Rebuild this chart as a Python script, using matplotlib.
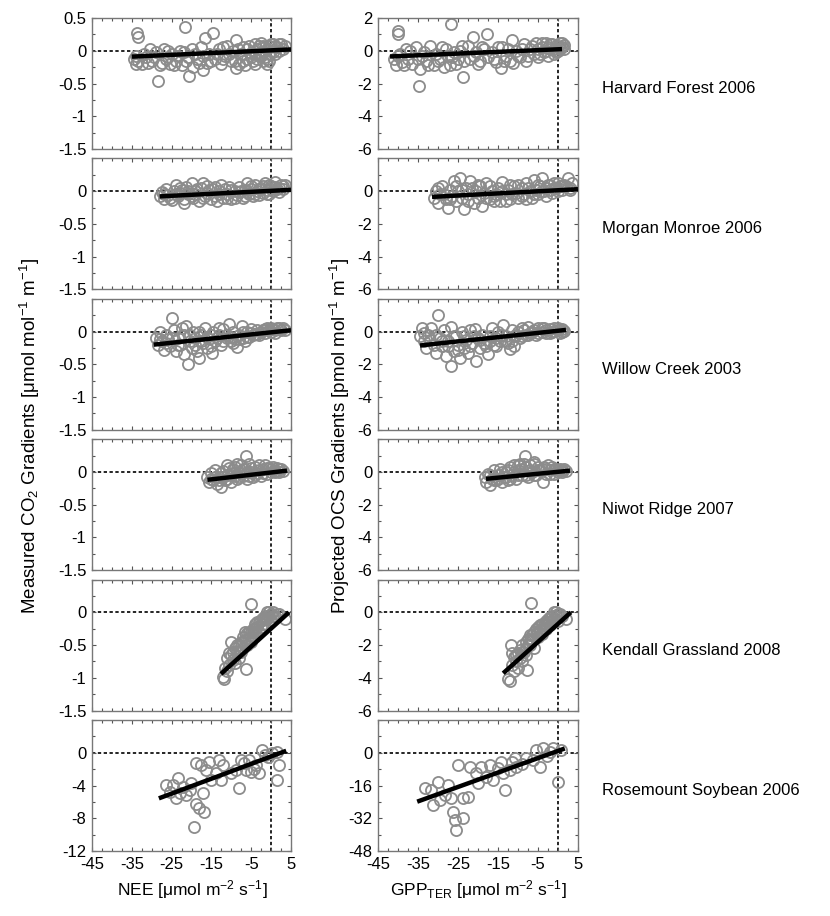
import matplotlib
matplotlib.use("Agg")
import matplotlib.pyplot as plt
from matplotlib.ticker import MultipleLocator

plt.rcParams['font.family'] = ['Liberation Sans', 'DejaVu Sans']
plt.rcParams['mathtext.fontset'] = 'custom'
plt.rcParams['mathtext.rm'] = 'Liberation Sans'
plt.rcParams['mathtext.it'] = 'Liberation Sans:italic'

sites = ["Harvard Forest 2006", "Morgan Monroe 2006", "Willow Creek 2003",
         "Niwot Ridge 2007", "Kendall Grassland 2008", "Rosemount Soybean 2006"]

# ---------------- left column: NEE vs measured CO2 gradient ----------------
hf_nee_x = [-34.5,-34,-33.5,-33.8,-33.5,-32,-31,-30.5,-29.5,-28.5,-28,-27,-26.5,-25.5,-25,-24,-23,-22.5,-21.6,-21,-20.7,-20,-19.5,-18.5,-17.5,-16.7,-16,-15.5,-14.7,-14,-13,-12.5,-11.5,-11,-10,-9.5,-8.8,-8.7,-8,-7.5,-7,-6,-5.5,-5,-4.5,-4,-3.5,-3,-2.5,-2,-1.5,-1,-0.5,0,0.5,1,1.5,2.5,3,3.5,-1,-6.5,-17,-26,
            -34,-32.5,-31.5,-30,-29,-27.5,-26,-24.5,-23.5,-22,-21.5,-19,-18,-17,-15,-13.5,-12,-10.5,-9,-8.2,-7,-6,-5,-4,-3.5,-3,-2.5,-2,-1.5,-1,-0.5,0,0.5,1,2,2,-4,-2,-0.5,-12]
hf_co2_y = [-0.12,-0.2,-0.15,0.27,0.21,-0.05,-0.18,0.02,-0.1,-0.46,-0.22,0.03,-0.13,-0.2,-0.05,-0.15,0.0,-0.22,0.37,-0.1,-0.39,0.02,-0.25,-0.12,0.05,0.2,-0.18,-0.05,0.27,-0.12,0.03,-0.2,-0.08,0.08,-0.15,0.0,0.16,-0.27,-0.2,-0.05,0.05,-0.12,0.08,-0.03,-0.15,0.1,0.02,-0.08,0.12,-0.02,0.05,-0.12,0.08,0.0,0.1,-0.05,0.05,0.1,0.02,0.07,-0.2,-0.22,-0.3,0.0,
            -0.08,-0.2,-0.1,-0.15,-0.02,-0.18,-0.1,-0.22,-0.08,-0.02,-0.15,-0.05,-0.18,-0.08,-0.15,-0.05,-0.12,-0.05,-0.15,0.02,-0.15,0.03,-0.1,-0.05,-0.12,0.08,-0.08,0.08,-0.1,0.03,-0.05,0.1,-0.02,0.08,0.0,0.1,-0.2,-0.15,-0.15,0.05]

mm_nee_x = [-28,-27.5,-27,-26.5,-26,-25,-24.5,-24,-23.5,-23,-22,-21.5,-21,-20,-19.5,-19,-18,-17.5,-17,-16.5,-16,-15,-14.5,-14,-13,-12.5,-12,-11,-10.5,-10,-9,-8.5,-8,-7,-6.5,-6,-5.5,-5,-4.5,-4,-3.5,-3,-2.5,-2,-1.5,-1,-0.5,0,0.5,1,1.5,2,2.5,3,3.5,-22,-13.5,
            -27,-25.5,-24,-22.5,-21,-20,-18.5,-17,-15.5,-14,-13,-11.5,-10,-9,-7.5,-6.5,-5,-4,-3,-2,-1,0,1,2,3,-0.5,-6,-11,-16,-19,-23,-8]
mm_co2_y = [-0.08,-0.02,-0.12,0.03,-0.06,-0.14,0.0,0.1,-0.08,-0.03,-0.12,0.06,-0.05,0.12,-0.1,0.0,-0.15,0.05,0.12,-0.07,-0.03,-0.12,0.04,-0.08,0.0,0.1,-0.1,-0.04,0.06,-0.12,0.0,-0.06,0.07,-0.1,0.02,0.12,-0.05,0.03,-0.08,0.1,0.0,-0.06,0.05,-0.03,0.12,0.02,-0.05,0.08,0.0,0.14,0.04,-0.02,0.1,0.03,0.1,-0.18,-0.15,
            -0.05,-0.1,-0.05,0.02,0.0,-0.08,0.03,-0.1,0.02,0.06,-0.05,0.03,0.02,-0.1,0.0,-0.08,0.08,-0.04,0.04,0.08,-0.05,0.03,0.06,0.05,0.08,0.1,-0.02,-0.1,0.08,-0.05,0.05,-0.02]

wc_nee_x = [-29,-28.5,-28,-27.5,-27,-26.5,-26,-25.5,-24.8,-24.5,-24,-23.5,-23,-22.5,-22,-21.3,-21,-20.5,-20,-19.5,-19,-18.5,-18,-17.5,-17,-16.5,-16,-15.5,-14.8,-14.5,-14,-13,-12.5,-12,-11,-10.5,-10,-9.5,-8.5,-8,-7.3,-7,-6,-5.5,-5,-4,-3.5,-3,-2,-1.5,-1,0,0.5,1,1.5,2.5,3,3.5,-9,-15,-6.5,
            -28,-26.5,-25,-23.5,-22,-20.5,-19,-17.5,-16,-15,-13.5,-12,-11,-10,-9.5,-8,-7,-6,-5,-4.5,-3.5,-2.5,-1.5,-0.5,0,1,2,-13,-18]
wc_co2_y = [-0.1,-0.2,0.0,-0.15,-0.28,-0.05,-0.12,-0.22,0.2,0.03,-0.3,-0.1,-0.2,0.05,-0.35,0.09,-0.49,-0.15,-0.25,0.0,-0.1,-0.3,-0.41,-0.05,-0.18,0.05,-0.25,-0.12,-0.32,0.0,-0.15,-0.05,-0.2,0.04,-0.1,0.12,-0.15,0.0,-0.24,-0.05,0.09,-0.1,0.0,-0.08,0.04,-0.04,0.02,-0.06,0.03,-0.02,0.05,0.0,0.04,-0.02,0.05,0.02,0.05,0.03,-0.12,-0.05,-0.15,
            -0.12,-0.18,-0.1,-0.2,-0.05,-0.05,-0.2,-0.15,-0.08,-0.22,-0.1,-0.15,-0.05,-0.08,-0.18,-0.12,0.0,-0.08,-0.02,-0.06,-0.04,0.0,0.04,0.02,0.06,0.03,0.06,0.05,0.0]

nr_nee_x = [-16,-15.5,-15,-14.5,-14,-13.5,-13,-12.6,-12,-11.5,-11,-10.5,-10,-9.5,-9,-8.5,-8,-7.5,-7,-6.5,-6.3,-6,-5.5,-5,-4.5,-4,-3.5,-3,-2.5,-2,-1.5,-1,-0.5,0,0.5,1,1.5,2,2.5,3,-8.5,-11,
            -15,-14,-13,-12,-11,-10,-9,-8,-7,-6,-5,-4,-3,-2,-1,0,1,2,-5.5,-9.5,-12.5]
nr_co2_y = [-0.08,-0.15,-0.02,-0.12,0.03,-0.18,-0.08,-0.23,0.02,-0.12,-0.05,0.06,-0.15,-0.02,0.08,-0.1,0.0,0.1,-0.06,0.04,0.24,-0.1,0.12,0.0,-0.08,0.08,-0.02,0.1,-0.06,0.04,0.1,-0.03,0.06,0.0,0.08,0.02,0.06,0.0,0.05,0.02,0.12,0.1,
            -0.1,-0.08,-0.12,-0.08,-0.1,-0.05,-0.06,-0.08,0.04,0.0,0.06,-0.04,0.03,-0.02,0.06,0.04,0.0,0.04,-0.06,0.04,-0.02]

kg_nee_x = [-12,-11.8,-11,-11,-10.5,-10.1,-10,-9.5,-9,-9,-8.5,-8,-8,-7.5,-7.5,-7,-7,-6.5,-6.3,-6,-6,-5.5,-5.1,-5,-5,-4.5,-4.5,-4,-4,-3.5,-3,-3,-2.5,-2.5,-2,-2,-1.5,-1,-1,-0.5,0,0,0.5,1,2,3.5,
            -11.5,-10.5,-9.5,-8.5,-8,-7,-6.5,-5.5,-4,-3.5,-2,-1.5,-0.5,0.5,1.5,-4.5,-6]
kg_co2_y = [-0.98,-1.02,-0.9,-0.7,-0.8,-0.46,-0.65,-0.72,-0.55,-0.78,-0.6,-0.5,-0.7,-0.45,-0.6,-0.55,-0.38,-0.42,-0.86,-0.5,-0.32,-0.4,0.13,-0.3,-0.45,-0.25,-0.38,-0.3,-0.18,-0.22,-0.15,-0.3,-0.12,-0.22,-0.08,-0.18,-0.05,-0.1,0.0,-0.05,-0.02,-0.12,0.0,-0.05,-0.03,-0.1,
            -0.85,-0.62,-0.6,-0.5,-0.6,-0.45,-0.3,-0.3,-0.25,-0.15,-0.12,-0.1,0.0,-0.05,-0.02,-0.3,-0.4]

rs_nee_x = [-26.3,-24.7,-23.4,-22.2,-23,-21.3,-20.5,-20.1,-18.8,-17.6,-18.8,-18,-16.75,-19.25,-17.2,-16.3,-15.1,-13.8,-12.6,-12.2,-10.1,-8.8,-8,-7.6,-6.3,-5.1,-3.8,-3,-2.2,-0.9,0.3,1.6,2,1.6,-5.5,-13,-15.5,-25.5,-23.8,-6.8,-4.3,-1.5]
rs_co2_y = [-3.94,-3.94,-3.13,-4.15,-4.96,-5.17,-4.55,-3.74,-1.3,-1.5,-6.2,-6.8,-7.2,-9.1,-4.96,-2.1,-3.3,-2.5,-3.3,-1.5,-2.5,-2.1,-4.35,-0.9,-2.1,-2.3,-1.5,-2.5,0.33,-0.48,-0.08,0.13,-1.5,-3.3,-0.9,-0.9,-1.1,-4.76,-5.57,-1.3,-2.0,-0.3]

# ---------------- right column: GPP_TER vs projected OCS gradient ----------------
hf_gpp_x = [-41,-40.5,-40,-40,-39.5,-39,-38,-37.5,-36.5,-35.5,-34.8,-34.5,-34,-33,-32,-31,-30.5,-29.5,-28.5,-28,-26.7,-26.5,-25.5,-24.5,-23.8,-23.5,-22.5,-21.3,-21,-20,-19,-17.7,-17.5,-16.5,-15.5,-14.3,-14,-13,-11.6,-11.3,-10.5,-9.5,-8.5,-8,-7,-6,-5.5,-5,-4,-3.5,-3,-2.5,-2,-1.5,-1,-0.5,0,0.5,1,1.5,-12,-27,
            -40,-38.5,-37,-35,-33.5,-32.5,-30,-29,-27.5,-26,-25,-24,-22,-20.5,-19.5,-18.5,-16,-15,-13.5,-12.5,-10,-9,-7.5,-6.5,-5,-4.5,-3,-2,-1,-0.5,0.5,1,-4,-2.5,0,1.5]
hf_ocs_y = [-0.5,-0.9,1.2,1.0,-0.2,-0.7,0.1,-0.5,-0.8,0.2,-2.15,-1.1,-0.3,-0.6,0.3,-0.9,-0.2,-0.5,-1.0,0.1,1.63,-0.4,-0.8,0.0,-1.6,-0.6,0.3,0.85,-0.3,-0.8,0.2,1.0,-0.4,-0.1,-0.7,-1.07,0.2,-0.3,0.65,-0.77,0.0,-0.4,0.4,-0.6,0.1,-0.2,0.5,-0.4,0.2,-0.1,0.45,-0.3,0.1,0.4,-0.2,0.3,0.0,0.45,0.2,0.35,-0.6,-0.9,
            -0.3,-0.9,0.0,-0.5,-0.1,-0.9,-0.6,0.2,-0.3,-0.1,-0.5,0.3,-0.5,-0.1,-0.6,0.1,-0.5,0.2,-0.6,0.1,-0.3,0.1,-0.3,0.3,0.1,-0.2,0.0,0.4,0.1,-0.1,0.1,0.45,0.5,0.2,0.3,0.1]

mm_gpp_x = [-31,-30.5,-30,-29.5,-29,-28,-27.5,-27,-26.5,-26,-25.5,-25,-24.5,-24,-23.5,-23,-22.5,-22,-21,-20.5,-20,-19.5,-19,-18.5,-18,-17,-16.5,-16,-15,-14.5,-14,-13,-12.5,-12,-11,-10.5,-10,-9,-8.5,-8,-7,-6.5,-6,-5.5,-5,-4.5,-4,-3.5,-3,-2.5,-2,-1.5,-1,-0.5,0,0.5,1,1.5,2.5,3,3.5,
            -30,-28.5,-27,-25.5,-24,-22.5,-21.5,-20,-18,-17,-15.5,-14,-13,-11.5,-10,-9,-7.5,-6,-5,-4,-3,-2,-1,0,1,2,3,-8,-16,-12]
mm_ocs_y = [-0.4,0.0,-0.7,-0.2,0.3,-0.5,-1.0,0.1,-0.3,0.6,-0.6,0.0,0.8,-0.4,-1.1,0.2,-0.2,0.6,-0.7,0.0,-0.4,0.3,-0.9,-0.1,0.5,-0.5,0.0,-0.3,0.2,-0.6,0.55,-0.2,0.1,-0.5,0.3,-0.1,-0.4,0.2,-0.2,0.5,0.0,-0.4,0.7,0.1,-0.2,0.3,0.8,0.0,-0.3,0.4,0.1,-0.1,0.5,0.2,0.0,0.3,0.1,0.4,0.8,0.2,0.5,
            0.2,-0.2,-0.5,0.3,0.1,-0.6,0.2,0.4,-0.4,0.3,-0.2,0.0,-0.6,-0.2,0.4,-0.3,0.2,-0.2,0.4,0.0,0.2,0.4,0.2,0.5,0.3,0.3,0.1,-0.5,-0.6,0.4]

wc_gpp_x = [-34.5,-34,-33.5,-33,-32.5,-31.7,-31,-30.5,-30,-29.5,-29,-28.5,-28,-27.5,-26.7,-26.7,-26,-25.5,-25,-24.5,-24,-23.5,-23,-22.5,-22,-21.5,-20.8,-20.4,-20,-19.5,-19,-18.5,-17.6,-17,-16.5,-16,-15.5,-15,-14.5,-13.7,-13,-12.5,-12,-11.5,-11,-10,-9.5,-9,-8,-7.5,-7,-6,-5.5,-5,-4,-3.5,-3,-2,-1.5,-1,0,0.5,1,1.5,
            -33.5,-32,-30.5,-29,-27.5,-26,-25,-23.5,-22,-21,-19.5,-18,-17,-15.5,-14,-13,-11.5,-10.5,-9,-7.5,-6.5,-5,-4,-3,-2,-1,0,1,-8.5,-11]
wc_ocs_y = [-0.3,0.2,-0.6,-1.0,-0.2,0.2,-0.8,-1.3,1.0,-0.4,-0.9,0.1,-1.5,-0.6,-2.1,0.27,-1.2,-0.3,-0.8,-1.6,0.0,-1.0,-0.5,-1.3,0.1,-0.7,0.18,-1.77,-0.4,-1.0,-0.2,-0.7,-1.4,-0.3,0.2,-0.8,-0.4,0.0,-0.6,0.43,-0.3,-0.7,-1.05,0.1,-0.3,0.0,-0.4,0.2,-0.2,0.3,-0.1,0.1,-0.2,0.2,0.0,0.2,-0.1,0.15,0.0,0.2,0.1,-0.1,0.15,0.05,
            -0.1,-0.5,-0.2,-0.6,-0.9,-0.3,-1.1,-0.3,-0.9,-0.3,-0.5,-0.9,-0.6,-0.9,-0.2,-0.6,-0.6,-0.2,-0.3,-0.2,0.0,-0.1,0.2,0.1,-0.1,0.05,0.2,0.0,0.1,-0.9]

nr_gpp_x = [-18.3,-18,-17.5,-17,-16.5,-16,-15.5,-15,-14.5,-14,-13.5,-13,-12.5,-12,-11.5,-11,-10.5,-10,-9.5,-9,-8.3,-8,-7.5,-7,-6.5,-6,-5.5,-5,-4.5,-3.8,-3.5,-3,-2.5,-2,-1.5,-1,-0.5,0,0.5,1,1.5,2,-10,-6,
            -17,-16,-15,-14,-13,-12,-11,-10,-9,-8,-7,-6,-5,-4,-3,-2,-1,0,1,-8.5,-12.5]
nr_ocs_y = [-0.3,-0.6,-0.1,-0.8,-0.4,0.1,-0.5,-0.2,0.2,-0.6,-0.3,0.0,-0.5,0.3,-0.2,0.4,-0.4,0.1,0.5,-0.2,1.0,0.3,-0.3,0.4,0.0,0.5,-0.2,0.3,0.1,-0.6,0.3,-0.1,0.4,0.1,0.3,-0.1,0.2,0.0,0.2,0.1,0.15,0.05,0.45,0.6,
            -0.2,-0.5,-0.4,0.0,-0.3,-0.4,0.0,-0.2,0.2,-0.2,0.1,-0.2,0.1,0.2,0.2,-0.1,0.2,0.1,0.0,0.5,0.1]

kg_gpp_x = [-12.5,-12.1,-11.7,-11.5,-11,-11,-10.5,-10,-10,-9.5,-9.5,-9,-9,-8.5,-8,-8,-7.7,-7.5,-7,-7,-6.8,-6.5,-6,-6,-5.5,-5,-5,-4.5,-4,-4,-3.5,-3,-3,-2.5,-2,-2,-1.5,-1,-1,-0.5,0,0,1,2,
            -11.5,-10.5,-9,-8,-7.5,-6.5,-5.5,-4.5,-3.5,-2.5,-1.5,-0.5,0.5,-5,-3,-7]
kg_ocs_y = [-4.1,-4.2,-2.0,-3.2,-3.6,-2.7,-3.0,-2.5,-3.4,-2.3,-2.8,-2.0,-3.0,-2.4,-1.8,-2.6,-3.55,-1.6,-2.0,-1.4,0.55,-1.7,-1.2,-2.2,-1.0,-1.5,-0.9,-1.1,-0.7,-1.3,-0.8,-0.5,-1.0,-0.6,-0.3,-0.8,-0.2,-0.4,0.0,-0.2,-0.1,-0.5,-0.2,-0.4,
            -2.5,-2.6,-2.4,-2.2,-2.0,-1.4,-1.3,-0.8,-1.0,-0.4,-0.5,0.0,-0.1,-1.2,-0.7,-1.7]

rs_gpp_x = [-33.3,-31.7,-30,-31.25,-29.6,-27.5,-28.3,-26.25,-25.8,-23.75,-25.4,-25,-23.75,-22.5,-22.1,-20.4,-20,-19.2,-17.9,-16.25,-17.1,-14.2,-13.3,-13.75,-12.1,-10.4,-10.8,-7.9,-6.25,-4.6,-5.4,-3.75,-2.1,-1.25,0,0.8,-26.7,-15,-11.5,-9,-2.8]
rs_ocs_y = [-17.4,-18.2,-14.1,-25.5,-23.1,-15.8,-20.7,-28.8,-32.9,-32,-37.7,-6,-22.3,-21.5,-6.8,-10.1,-15,-6.8,-11.7,-13.3,-6,-4.4,-18.2,-10.1,-8.5,-6.8,-2.75,-2.75,-3.6,-6.8,1.3,2.1,0.5,2.1,-14.1,1.3,-22.3,-7.6,-4.5,-5.5,-1.5]

# regression line end points [x0, x1], [y0, y1]
left_fit_x = [[-35, 5], [-28, 5], [-29.5, 5], [-16, 4], [-12.6, 4.5], [-28.2, 3.8]]
left_fit_y = [[-0.09, 0.02], [-0.08, 0.02], [-0.2, 0.02], [-0.12, 0.02], [-0.94, 0.0], [-5.57, 0.24]]
right_fit_x = [[-42, 1], [-31.5, 5], [-34.5, 2], [-18, 3], [-13.7, 3.2], [-35.2, 1.7]]
right_fit_y = [[-0.35, 0.1], [-0.35, 0.12], [-0.85, 0.1], [-0.42, 0.08], [-3.72, 0.0], [-23.9, 2.1]]

left_x = [hf_nee_x, mm_nee_x, wc_nee_x, nr_nee_x, kg_nee_x, rs_nee_x]
left_y = [hf_co2_y, mm_co2_y, wc_co2_y, nr_co2_y, kg_co2_y, rs_co2_y]
right_x = [hf_gpp_x, mm_gpp_x, wc_gpp_x, nr_gpp_x, kg_gpp_x, rs_gpp_x]
right_y = [hf_ocs_y, mm_ocs_y, wc_ocs_y, nr_ocs_y, kg_ocs_y, rs_ocs_y]

x_ticks = [-45, -35, -25, -15, -5, 5]
left_yticks = [-1.5, -1, -0.5, 0, 0.5]
left_yticks_last = [-12, -8, -4, 0, 4]
right_yticks = [-6, -4, -2, 0, 2]
right_yticks_last = [-48, -32, -16, 0, 16]

W, H = 830, 916
fig = plt.figure(figsize=(W / 100, H / 100), dpi=100)

col_x0 = [92, 378]
col_w = [199, 200]
row_top0 = 18
row_step = 140.4
row_h = 131


def fmt(v):
    return '%g' % v


def style_axes(ax, yticks, show_top_label, show_xlabels):
    ax.set_xlim(-45, 5)
    ax.set_ylim(yticks[0], yticks[-1])
    ax.set_xticks(x_ticks)
    ax.xaxis.set_minor_locator(MultipleLocator(2.5))
    ax.set_yticks(yticks)
    step = yticks[1] - yticks[0]
    ax.yaxis.set_minor_locator(MultipleLocator(step / 2))
    labels = [fmt(v) for v in yticks]
    if not show_top_label:
        labels[-1] = ''
    ax.set_yticklabels(labels)
    if show_xlabels:
        ax.set_xticklabels([fmt(v) for v in x_ticks])
    else:
        ax.set_xticklabels([])
    ax.tick_params(which='both', direction='in', top=True, right=True,
                   color='#555555', labelsize=12, labelcolor='black')
    ax.tick_params(which='major', length=3, width=0.8, pad=4)
    ax.tick_params(which='minor', length=2, width=0.8)
    for sp in ax.spines.values():
        sp.set_color('#777777')
        sp.set_linewidth(1.0)
    ax.axhline(0, color='black', lw=1.2, ls=(0, (2, 1.5)), zorder=1)
    ax.axvline(0, color='black', lw=1.2, ls=(0, (2, 1.5)), zorder=1)


for r in range(6):
    top = row_top0 + row_step * r
    for c in range(2):
        ax = fig.add_axes([col_x0[c] / W, 1 - (top + row_h) / H, col_w[c] / W, row_h / H])
        if c == 0:
            xs, ys, fx, fy = left_x[r], left_y[r], left_fit_x[r], left_fit_y[r]
            yt = left_yticks_last if r == 5 else left_yticks
        else:
            xs, ys, fx, fy = right_x[r], right_y[r], right_fit_x[r], right_fit_y[r]
            yt = right_yticks_last if r == 5 else right_yticks
        style_axes(ax, yt, r == 0, r == 5)
        ax.plot(xs, ys, 'o', mfc='none', mec='#8c8c8c', ms=8, mew=1.3, zorder=2)
        ax.plot(fx, fy, '-', color='black', lw=3.2, solid_capstyle='butt', zorder=3)
    fig.text(602 / W, 1 - (top + row_h / 2 + 5) / H, sites[r], fontsize=12,
             ha='left', va='center')

fig.text(30 / W, 1 - 436 / H, r'Measured CO$_2$ Gradients [μmol mol$^{-1}$ m$^{-1}$]',
         rotation=90, ha='center', va='center', fontsize=13.5)
fig.text(340 / W, 1 - 436 / H, r'Projected OCS Gradients [pmol mol$^{-1}$ m$^{-1}$]',
         rotation=90, ha='center', va='center', fontsize=13.5)
fig.text(192 / W, 1 - 890 / H, r'NEE [μmol m$^{-2}$ s$^{-1}$]', ha='center', va='center', fontsize=12.5)
fig.text(478 / W, 1 - 890 / H, r'GPP$_{\mathrm{TER}}$ [μmol m$^{-2}$ s$^{-1}$]', ha='center', va='center', fontsize=12.5)

fig.savefig('out.png', dpi=100)
